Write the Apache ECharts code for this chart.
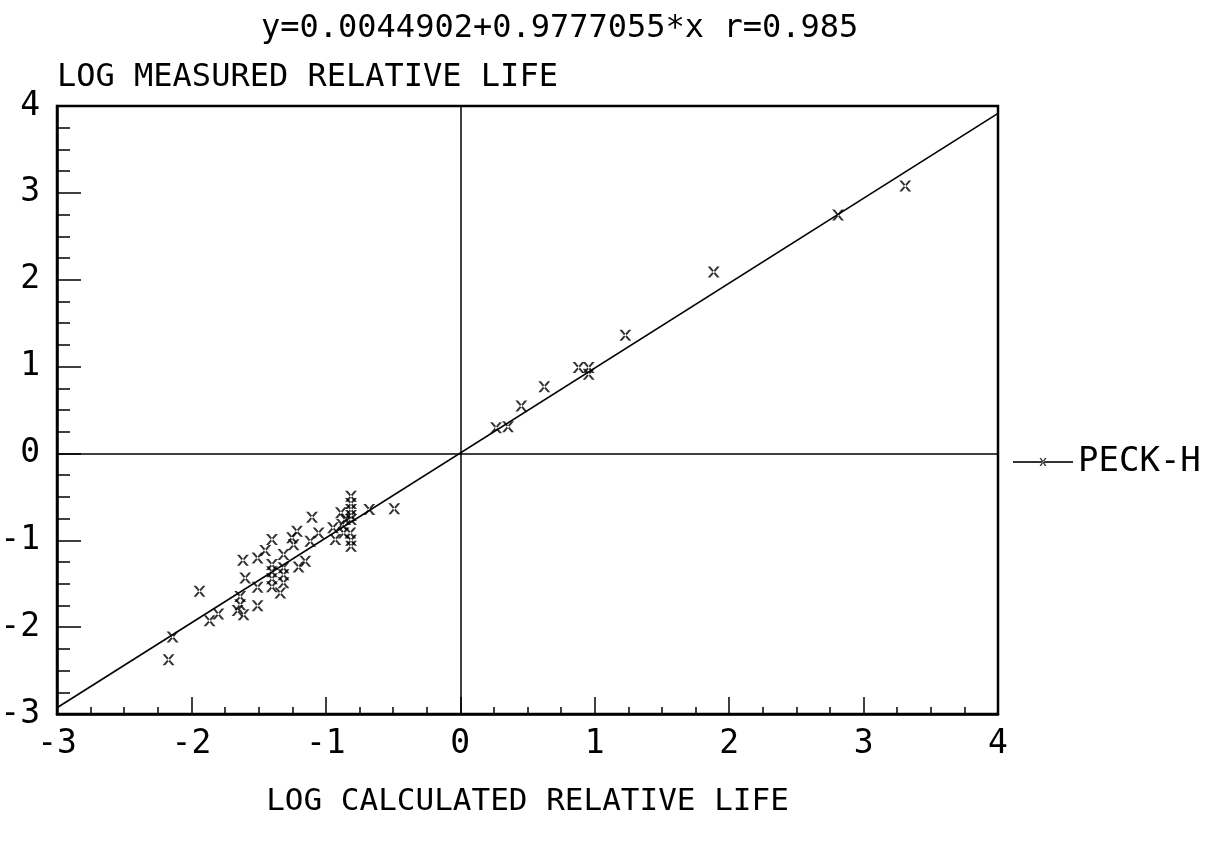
<!DOCTYPE html>
<html>
<head>
<meta charset="utf-8">
<script src="https://cdn.jsdelivr.net/npm/echarts@6/dist/echarts.min.js"></script>
<style>html,body{margin:0;padding:0;background:#fff}#c{width:1213px;height:843px}</style>
</head>
<body>
<div id="c"></div>
<script>
// ---- data ----
const titleText = 'y=0.0044902+0.9777055*x r=0.985';
const xAxisName = 'LOG CALCULATED RELATIVE LIFE';
const yAxisName = 'LOG MEASURED RELATIVE LIFE';
const seriesName = 'PECK-H';
const xRange = [-3, 4];
const yRange = [-3, 4];
const fitIntercept = 0.0044902;
const fitSlope = 0.9777055;

const calcX = [
  -2.17, -2.14, -1.94, -1.865, -1.80, -1.657, -1.637, -1.612, -1.637, -1.60,
  -1.617, -1.508, -1.508, -1.508, -1.451, -1.401, -1.401, -1.401, -1.401, -1.401,
  -1.339, -1.315, -1.315, -1.315, -1.315, -1.252, -1.240, -1.215, -1.203, -1.153,
  -1.116, -1.103, -1.054, -0.947, -0.930, -0.880, -0.888, -0.868, -0.813, -0.813,
  -0.813, -0.813, -0.813, -0.818, -0.813, -0.813, -0.677, -0.491, -0.856,
  0.266, 0.355, 0.454, 0.625, 0.880, 0.955, 0.955, 1.228, 1.885, 2.81, 3.31
];
const measY = [
  -2.376, -2.114, -1.588, -1.926, -1.849, -1.807, -1.742, -1.857, -1.646, -1.434,
  -1.231, -1.203, -1.542, -1.753, -1.119, -0.992, -1.280, -1.361, -1.442, -1.534,
  -1.607, -1.165, -1.315, -1.396, -1.488, -0.972, -1.050, -0.896, -1.307, -1.242,
  -1.012, -0.735, -0.915, -0.857, -0.992, -0.819, -0.684, -0.915, -0.492, -0.577,
  -0.646, -0.715, -0.761, -0.915, -1.000, -1.069, -0.646, -0.638, -0.761,
  0.296, 0.308, 0.546, 0.769, 0.988, 0.988, 0.911, 1.36, 2.09, 2.745, 3.08
];

// ---- build ----
const FONT = '"DejaVu Sans Mono", "Liberation Mono", monospace';
const points = calcX.map((x, i) => [x, measY[i]]);
const fitLine = xRange.map(x => [x, fitIntercept + fitSlope * x]);

const xMarker = 'path://M0 0 L2.2 0 L10 10 L7.8 10 Z M10 0 L7.8 0 L0 10 L2.2 10 Z';
const legendIcon = 'path://M0 3 L60 3 L60 5 L0 5 Z M26.5 0 L28.1 0 L33.5 8 L31.9 8 Z M33.5 0 L31.9 0 L26.5 8 L28.1 8 Z';

const chart = echarts.init(document.getElementById('c'), null, {renderer: 'canvas'});
chart.setOption({
  backgroundColor: '#fff',
  animation: false,
  title: {
    text: titleText,
    left: 256, top: 8,
    textStyle: {fontFamily: FONT, fontSize: 32, fontWeight: 'normal', color: '#000'}
  },
  grid: {
    left: 57, right: 215, top: 106, bottom: 129,
    outerBoundsMode: 'none', containLabel: false,
    show: true, borderColor: '#000', borderWidth: 2.5, backgroundColor: 'transparent'
  },
  legend: {
    data: [{name: seriesName, icon: legendIcon}],
    left: 1008, top: 440, orient: 'vertical',
    itemWidth: 60, itemHeight: 8, itemGap: 10,
    textStyle: {fontFamily: FONT, fontSize: 34, color: '#000'},
    selectedMode: false
  },
  xAxis: {
    type: 'value', min: xRange[0], max: xRange[1], interval: 1,
    name: xAxisName, nameLocation: 'middle', nameGap: 72,
    nameTextStyle: {fontFamily: FONT, fontSize: 31, color: '#000'},
    axisLine: {show: true, onZero: false, lineStyle: {color: '#000', width: 2.5}},
    axisTick: {show: true, inside: true, length: 17, lineStyle: {color: '#000', width: 1.5}},
    minorTick: {show: true, splitNumber: 4, length: 7, lineStyle: {color: '#000', width: 1.5}},
    splitLine: {show: false},
    minorSplitLine: {show: false},
    axisLabel: {fontFamily: FONT, fontSize: 33, color: '#000', margin: 14}
  },
  yAxis: {
    type: 'value', min: yRange[0], max: yRange[1], interval: 1,
    name: yAxisName, nameLocation: 'end', nameGap: 28,
    nameTextStyle: {fontFamily: FONT, fontSize: 32, color: '#000', align: 'left', verticalAlign: 'middle'},
    axisLine: {show: true, onZero: false, lineStyle: {color: '#000', width: 2.5}},
    axisTick: {show: true, inside: true, length: 24, lineStyle: {color: '#000', width: 1.5}},
    minorTick: {show: true, splitNumber: 4, length: 13, lineStyle: {color: '#000', width: 1.5}},
    splitLine: {show: false},
    minorSplitLine: {show: false},
    axisLabel: {fontFamily: FONT, fontSize: 33, color: '#000', margin: 17}
  },
  series: [
    {
      name: 'fit', type: 'line', data: fitLine, showSymbol: false, silent: true,
      lineStyle: {color: '#000', width: 1.6}, z: 2
    },
    {
      name: seriesName, type: 'scatter', data: points,
      symbol: xMarker, symbolSize: [12, 11],
      itemStyle: {color: '#000'}, z: 3,
      markLine: {
        silent: true, symbol: ['none', 'none'], label: {show: false},
        lineStyle: {color: '#000', width: 1.5, type: 'solid'},
        data: [{xAxis: 0}, {yAxis: 0}]
      }
    }
  ]
});
</script>
</body>
</html>
